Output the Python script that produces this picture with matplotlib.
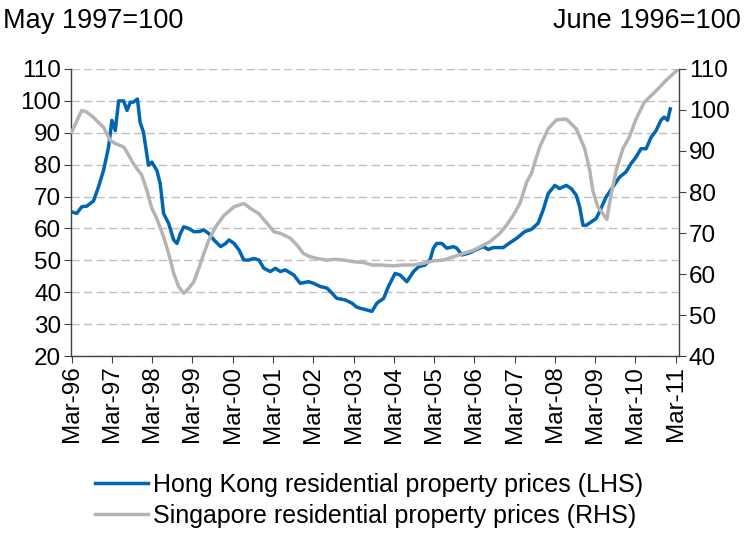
import matplotlib
matplotlib.use("Agg")
import matplotlib.pyplot as plt

plt.rcParams["font.family"] = ["Liberation Sans", "DejaVu Sans"]

# months since Mar-1996
hk_month = [0, 1.5, 3, 4.5, 6.5, 8, 9.5, 11, 12, 13, 14, 15.5, 16.5, 17.5, 18.4, 19.6,
            20.4, 21.4, 22.9, 23.9, 25.4, 26.4, 27.4, 28.9, 30.4, 31.4, 32.4, 33.4,
            34.9, 36.4, 37.9, 39.4, 40.9, 42.4, 44.4, 45.9, 46.9, 48.4, 49.9, 51.3,
            52.8, 54.3, 55.8, 57.3, 59.2, 60.7, 62.2, 63.7, 66.2, 68.1, 70.6, 72.1,
            74.1, 76.1, 77.6, 79, 81.5, 83.5, 85, 87, 89.5, 91, 93, 94.4, 96.4, 97.9,
            99.9, 101.9, 103.4, 105.3, 106.8, 107.8, 108.8, 110.3, 111.8, 113.8,
            114.8, 116.3, 118.2, 120.7, 122.7, 124.2, 125.6, 128.6, 130.6, 132.6,
            135, 137, 139, 140.5, 142, 144, 145.4, 147.4, 148.9, 150.4, 151.4, 152.4,
            153.4, 154.9, 156.3, 157.3, 159.3, 161.3, 163.3, 165.2, 166.7, 168.2,
            169.7, 171.2, 172.7, 174.2, 175.6, 176.6, 177.6, 178.4]
hk_value = [65.2, 64.7, 66.8, 67, 68.6, 73, 78.2, 85.5, 93.9, 90.7, 100, 100, 97, 99.6,
            99.6, 100.6, 93.3, 90.2, 79.8, 80.8, 78.2, 74, 64.7, 61.6, 56.4, 55.3,
            58.4, 60.5, 60, 59, 59, 59.5, 58.4, 56.4, 54.3, 55.3, 56.4, 55.3, 53.2,
            50.1, 50.1, 50.6, 50.1, 47.5, 46.5, 47.5, 46.5, 47, 45.4, 42.8, 43.3,
            42.8, 41.8, 41.3, 39.7, 38.1, 37.6, 36.6, 35.3, 34.7, 34, 36.6, 38.1,
            41.8, 45.9, 45.4, 43.3, 46.5, 48, 48.5, 50.1, 53.8, 55.3, 55.3, 53.8,
            54.3, 53.8, 51.7, 52.2, 53.4, 54.3, 53.4, 54, 54, 55.5, 56.9, 59, 59.7,
            61.6, 65.7, 70.9, 73.5, 72.5, 73.5, 72.5, 70.4, 66.8, 61, 61, 62.1, 63.1,
            65.2, 69.9, 73, 76.1, 77.7, 80.3, 82.4, 85, 85, 88.6, 90.7, 93.9, 94.9,
            93.9, 97.5]

sg_month = [0, 3, 4.5, 6.5, 9.5, 11.5, 13, 15.5, 16.5, 18.4, 20.9, 22.4, 23.9, 25.4,
            27.4, 28.9, 30.4, 31.9, 33.4, 34.9, 36.4, 37.9, 39.4, 40.9, 42.9, 45.4,
            48.4, 51.3, 53.3, 55.8, 58.3, 60.3, 62.3, 65.2, 67.1, 69.1, 71.1, 73.1,
            76.1, 78.6, 81, 84, 87, 89.5, 91.9, 95.9, 98.9, 101.9, 104.8, 107.8,
            110.8, 113.8, 116.7, 119.7, 121.7, 124.7, 127.6, 129.6, 131.6, 133.6,
            135.6, 137, 139.5, 142, 144.5, 147.4, 150.4, 152.9, 154.4, 155.3, 156.8,
            158.3, 159.5, 160.8, 162.3, 164.3, 166.2, 168.2, 170.7, 174.2, 177.1, 180.6]
sg_value = [94.6, 99.9, 99.5, 98.2, 95.8, 92.6, 91.8, 91, 89.7, 86.9, 84.1, 80.4, 76,
            73.5, 69.1, 65, 60.2, 56.9, 55.3, 56.5, 58.1, 61.4, 65, 68.3, 71.5, 74.3,
            76.4, 77.2, 76, 74.7, 72.3, 70.3, 69.9, 68.7, 67.1, 65, 64.2, 63.8, 63.4,
            63.6, 63.4, 63, 62.8, 62.2, 62.2, 62, 62.2, 62.2, 62.6, 63.2, 63.4, 64.2,
            65, 65.8, 66.6, 67.9, 69.9, 71.9, 74.3, 77.2, 82.4, 84.5, 91, 95.4, 97.6,
            97.8, 95.4, 90.6, 85.3, 80.4, 76.4, 74.7, 73.3, 79.6, 85.3, 90.6, 93.4,
            97.8, 101.9, 104.7, 107.2, 109.8]

tick_labels = ["Mar-96", "Mar-97", "Mar-98", "Mar-99", "Mar-00", "Mar-01", "Mar-02",
               "Mar-03", "Mar-04", "Mar-05", "Mar-06", "Mar-07", "Mar-08", "Mar-09",
               "Mar-10", "Mar-11"]

BLUE = "#0066b3"
GREY = "#b4b4b4"
FS_TICK = 17.5
FS_HEAD = 19.5
FS_LEG = 18

fig = plt.figure(figsize=(7.44, 5.34), dpi=100)
ax = fig.add_axes([0.0954, 0.3333, 0.8172, 0.5375])
ax2 = ax.twinx()

l1, = ax.plot(hk_month, hk_value, color=BLUE, lw=2.5,
              label="Hong Kong residential property prices (LHS)")
l2, = ax2.plot(sg_month, sg_value, color=GREY, lw=2.5,
               label="Singapore residential property prices (RHS)")

ax.set_xlim(-0.2, 181)
ax.set_ylim(20, 110)
ax2.set_ylim(40, 110)
ax.set_yticks(range(20, 111, 10))
ax2.set_yticks(range(40, 111, 10))
ax.set_xticks(range(0, 181, 12))
ax.set_xticklabels(tick_labels, rotation=90)

ax.grid(axis="y", color="#c0c0c0", ls=(0, (6, 3)), lw=1)
ax.set_axisbelow(True)

for a in (ax, ax2):
    a.spines["top"].set_visible(False)
    for s in ("left", "right", "bottom"):
        a.spines[s].set_color("#404040")
        a.spines[s].set_linewidth(1)
    a.tick_params(labelsize=FS_TICK, length=5, color="#404040", pad=2)
ax.spines["right"].set_visible(False)
ax2.spines["left"].set_visible(False)
ax2.spines["bottom"].set_visible(False)

fig.text(0.004, 0.985, "May 1997=100", fontsize=FS_HEAD, ha="left", va="top")
fig.text(0.996, 0.985, "June 1996=100", fontsize=FS_HEAD, ha="right", va="top")

fig.legend(handles=[l1, l2], loc="center left", bbox_to_anchor=(0.128, 0.063),
           frameon=False, fontsize=FS_LEG, handlelength=2.1, handletextpad=0.2,
           labelspacing=0.3, borderpad=0, borderaxespad=0)

fig.savefig("out.png", dpi=100)
